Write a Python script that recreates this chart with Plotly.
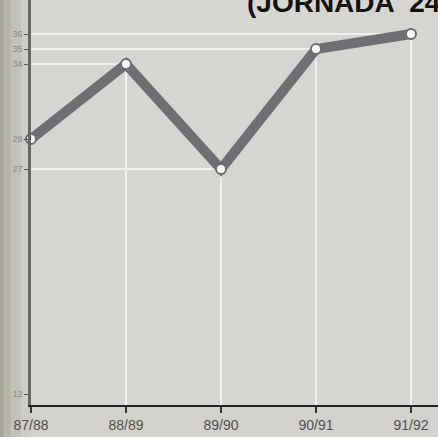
import plotly.graph_objects as go

seasons = ["87/88", "88/89", "89/90", "90/91", "91/92"]
values = [29, 34, 27, 35, 36]
ytick_vals = [12, 27, 29, 34, 35, 36]
ytick_text = ["12", "27", "29", "34", "35", "36"]
title_text = "(JORNADA  24"

xs = list(range(len(seasons)))
y_bot, y_top = 11.27, 38.27
x_min, x_max = 0, 4.284

fig = go.Figure()

shapes = []
for i, v in enumerate(values):
    if i > 0:
        shapes.append(dict(type="line", xref="x", yref="y", x0=i, x1=i, y0=y_bot, y1=v,
                           line=dict(color="#f0f0ee", width=2), layer="below"))
        shapes.append(dict(type="line", xref="x", yref="y", x0=0, x1=i, y0=v, y1=v,
                           line=dict(color="#f0f0ee", width=2), layer="below"))

# darker left edge of the scanned page
for w, op in [(0.012, 0.35), (0.03, 0.25), (0.055, 0.15), (0.08, 0.08)]:
    shapes.append(dict(type="rect", xref="paper", yref="paper", x0=-0.08, x1=-0.08 + w,
                       y0=-0.1, y1=1.1, fillcolor="#8a8a70", opacity=op, line=dict(width=0),
                       layer="below"))

fig.add_trace(go.Scatter(
    x=xs, y=values, mode="lines+markers",
    line=dict(color="#6e6e73", width=10),
    marker=dict(color="white", size=10, line=dict(color="#6e6e73", width=2)),
    cliponaxis=False, hoverinfo="skip",
))

fig.add_annotation(text="<b>" + title_text + "</b>", xref="paper", yref="paper", x=0.526, y=1.0,
                   xanchor="left", yanchor="middle", yshift=-2,
                   showarrow=False, font=dict(family="Liberation Sans", size=28, color="#111111"))

fig.update_layout(
    width=438, height=437,
    margin=dict(l=31, r=0, t=0, b=32),
    paper_bgcolor="#d3d2ce", plot_bgcolor="#d6d5d1",
    showlegend=False, shapes=shapes,
    font=dict(family="Liberation Sans", color="#555555"),
)
fig.update_xaxes(range=[x_min, x_max], tickvals=xs, ticktext=seasons,
                 showgrid=False, zeroline=False, showline=True, linecolor="#222222", linewidth=2,
                 ticks="outside", ticklen=6, tickcolor="#333333", tickwidth=1.5,
                 tickfont=dict(size=14, color="#505050"))
fig.update_yaxes(range=[y_bot, y_top], tickvals=ytick_vals, ticktext=ytick_text,
                 showgrid=False, zeroline=False, showline=True, linecolor="#666666", linewidth=2.5,
                 ticks="outside", ticklen=4, tickcolor="#555555",
                 tickfont=dict(size=9, color="#8a8a88"))

fig.write_html("out.html", config={"displayModeBar": False},
               post_script="document.body.style.margin='0';")
